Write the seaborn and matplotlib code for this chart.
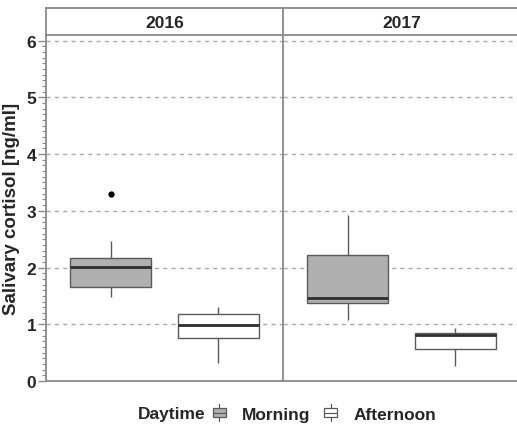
import matplotlib.pyplot as plt
import numpy as np
import pandas as pd
import seaborn as sns
from matplotlib.legend_handler import HandlerBase
from matplotlib.lines import Line2D
from matplotlib.patches import Patch, Rectangle

sns.set_theme(style="white")
plt.rcParams['font.family'] = ['Liberation Sans', 'DejaVu Sans']

years = ['2016', '2017']
daytimes = ['Morning', 'Afternoon']
colors = {'Morning': '#b0b0b0', 'Afternoon': '#ffffff'}

cortisol_2016_morning = [1.48, 1.60, 1.65, 1.85, 2.01, 2.10, 2.16, 2.46, 3.29]
cortisol_2016_afternoon = [0.32, 0.60, 0.75, 0.90, 0.99, 1.10, 1.19, 1.25, 1.31]
cortisol_2017_morning = [1.07, 1.30, 1.38, 1.42, 1.47, 1.90, 2.22, 2.60, 2.93]
cortisol_2017_afternoon = [0.27, 0.45, 0.56, 0.70, 0.81, 0.83, 0.84, 0.90, 0.93]

samples = {
    ('2016', 'Morning'): cortisol_2016_morning,
    ('2016', 'Afternoon'): cortisol_2016_afternoon,
    ('2017', 'Morning'): cortisol_2017_morning,
    ('2017', 'Afternoon'): cortisol_2017_afternoon,
}
rows = [(y, d, v) for (y, d), vals in samples.items() for v in vals]
df = pd.DataFrame(rows, columns=['Year', 'Daytime', 'Cortisol'])

W, H = 517, 431
fig = plt.figure(figsize=(W / 100, H / 100), dpi=100)
fig.patch.set_facecolor('white')

line_col = '#8a8a8a'
edge_col = '#5a5a5a'
panel_l = 46
panel_w = 237
bot, top = 382, 36
strip_top = 9
fs = 12.5

for i, year in enumerate(years):
    x0 = panel_l + i * panel_w
    ax = fig.add_axes([x0 / W, (H - bot) / H, panel_w / W, (bot - top) / H])
    sax = fig.add_axes([x0 / W, (H - top) / H, panel_w / W, (top - strip_top) / H])

    sub = df[df['Year'] == year]
    sns.boxplot(data=sub, x='Daytime', y='Cortisol', hue='Daytime', order=daytimes,
                hue_order=daytimes, palette=colors, width=0.75, linecolor=edge_col,
                linewidth=1.0, legend=False, showcaps=False, ax=ax,
                medianprops={'color': '#2e2e2e', 'linewidth': 2},
                flierprops={'marker': 'o', 'markerfacecolor': 'black',
                            'markeredgecolor': 'black', 'markersize': 3.5})
    ax.set_xlim(-0.6, 1.6)
    ax.set_ylim(0, 6.1)
    ax.set_xlabel('')
    ax.set_ylabel('')
    ax.set_xticks([])
    ax.set_facecolor('white')
    for y in range(1, 7):
        ax.axhline(y, color='#aaaaaa', lw=1, ls=(0, (3, 3)), zorder=0)

    for s in ['top', 'right']:
        ax.spines[s].set_visible(False)
    ax.spines['bottom'].set_color(line_col)
    ax.spines['bottom'].set_linewidth(1.3)
    ax.spines['left'].set_color(line_col)
    ax.spines['left'].set_linewidth(1.3)

    if i == 0:
        ax.set_yticks(range(0, 7))
        ax.set_yticks(np.arange(0, 6.05, 0.1), minor=True)
        ax.tick_params(axis='y', which='major', length=6, width=1, color=line_col,
                       labelsize=12.5, pad=1, left=True)
        ax.tick_params(axis='y', which='minor', length=3, width=0.8, color=line_col, left=True)
        for lab in ax.get_yticklabels():
            lab.set_fontweight('bold')
        ax.set_ylabel('Salivary cortisol [ng/ml]', fontsize=13.5, fontweight='bold')
        ax.yaxis.set_label_coords(-26 / panel_w, 0.5)
    else:
        ax.set_yticks([])

    # facet strip
    sax.set_xticks([])
    sax.set_yticks([])
    sax.set_facecolor('white')
    for s in ['top', 'bottom', 'left', 'right']:
        sax.spines[s].set_color(line_col)
        sax.spines[s].set_linewidth(1.3)
    if i == 1:
        sax.spines['right'].set_visible(False)
    sax.text(0.5, 0.45, year, ha='center', va='center', fontsize=fs,
             fontweight='bold', transform=sax.transAxes)


class BoxHandler(HandlerBase):
    def create_artists(self, legend, orig_handle, xdescent, ydescent, width,
                       height, fontsize, trans):
        cx = width / 2 - xdescent
        bw = width
        bh = height * 0.7
        by = (height - bh) / 2 - ydescent
        rect = Rectangle((cx - bw / 2, by), bw, bh, facecolor=orig_handle.get_facecolor(),
                         edgecolor=edge_col, lw=0.9, transform=trans)
        med = Line2D([cx - bw / 2, cx + bw / 2], [by + bh / 2] * 2, color=edge_col, lw=0.9,
                     transform=trans)
        w1 = Line2D([cx, cx], [by + bh, height - ydescent + 2], color=edge_col, lw=0.9,
                    transform=trans)
        w2 = Line2D([cx, cx], [-ydescent - 2, by], color=edge_col, lw=0.9, transform=trans)
        return [rect, med, w1, w2]


leg_y = (H - 415) / H
handles = [Patch(facecolor=colors[d]) for d in daytimes]
fig.text(138 / W, leg_y, 'Daytime', ha='left', va='center',
         fontsize=fs, fontweight='bold')
fig.legend(handles, daytimes, loc='center left', bbox_to_anchor=(213 / W, leg_y),
           ncol=2, frameon=False, handler_map={Patch: BoxHandler()},
           handlelength=0.72, handletextpad=0.95, columnspacing=0.8,
           borderaxespad=0, borderpad=0,
           prop={'weight': 'bold', 'size': fs})

fig.savefig('out.png', dpi=100, facecolor='white')
